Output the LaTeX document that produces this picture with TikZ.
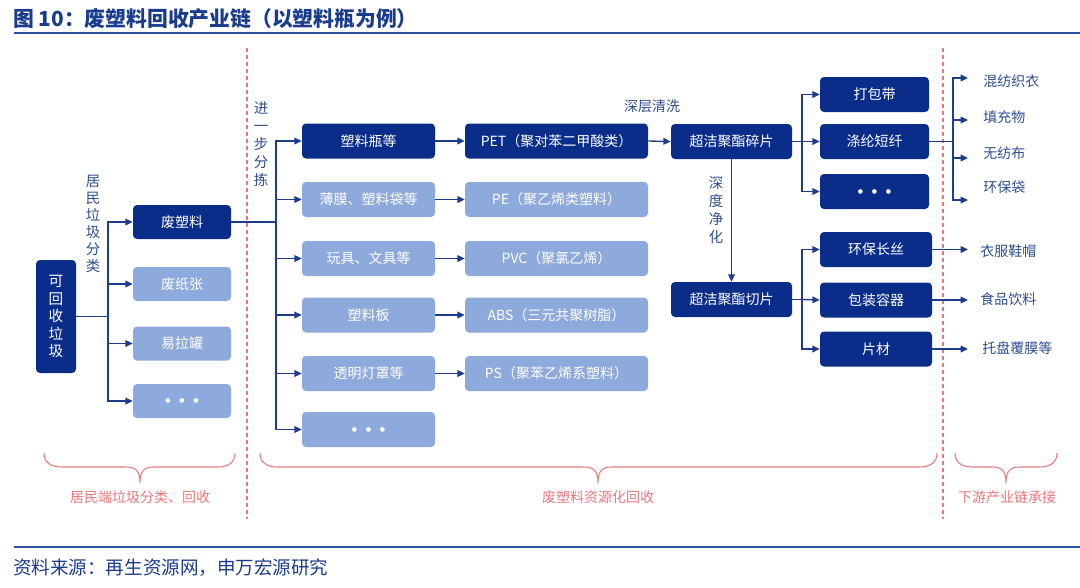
\documentclass[tikz,border=0pt]{standalone}
\usepackage{fontspec}
\setmainfont{Noto Sans CJK SC}
\newfontfamily\dejavu{DejaVu Sans}
\usetikzlibrary{arrows.meta,calc}
\definecolor{dk}{HTML}{0B2D8A}
\definecolor{lt}{HTML}{8EA9DB}
\definecolor{ln}{HTML}{1E3C8C}
\definecolor{lbl}{HTML}{2E4D92}
\definecolor{rd}{HTML}{E8787C}
\definecolor{ttl}{HTML}{1A3C8E}
\definecolor{rule}{HTML}{2B52A2}
\newcommand\mybrace[3]{\draw[bracestyle] (#1,453) .. controls (#1,462) and (#1+6,467) .. (#1+18,467) -- (#3-14,467) .. controls (#3-5,467) and (#3,470) .. (#3,483) .. controls (#3,470) and (#3+5,467) .. (#3+14,467) -- (#2-18,467) .. controls (#2-6,467) and (#2,462) .. (#2,453);}
\newcommand\threedots{{\dejavu\fontsize{4.5}{5}\selectfont ●\hspace{6.5pt}●\hspace{6.5pt}●}}
\begin{document}
\begin{tikzpicture}[x=0.75pt,y=-0.75pt,
  box/.style={rounded corners=3pt,inner sep=0pt,text=white,font=\fontsize{10.5}{12}\selectfont},
  dkbox/.style={box,fill=dk},
  ltbox/.style={box,fill=lt},
  c2/.style={minimum width=73.5pt,minimum height=25.5pt},
  c3/.style={minimum width=99.75pt,minimum height=26.25pt},
  c4/.style={minimum width=137.25pt,minimum height=26.25pt},
  c5/.style={minimum width=90.75pt,minimum height=26.25pt},
  c6/.style={minimum width=81.75pt,minimum height=26.25pt},
  c7/.style={minimum width=84pt,minimum height=26.25pt},
  conn/.style={draw=ln,line width=1pt},
  arr/.style={conn,-{Triangle[length=5.5pt,width=5pt]}},
  lab/.style={text=lbl,font=\fontsize{10.5}{12}\selectfont,inner sep=0pt},
  vlab/.style={text=lbl,align=center,inner sep=0pt},
  redlab/.style={text=rd,font=\fontsize{10.5}{12}\selectfont,inner sep=0pt},
  bracestyle/.style={draw=rd,line width=0.8pt},
  sep/.style={draw=rd,line width=0.8pt,dash pattern=on 3pt off 2.25pt},
  dots/.style={}
]
\path[use as bounding box] (0,0) rectangle (1080,587);

% title
\node[anchor=west,inner sep=0pt,text=ttl,font=\fontsize{15.6}{17}\selectfont\bfseries] (title) at (13,19) {图 10：废塑料回收产业链（以塑料瓶为例）};
\draw[rule,line width=1.5pt] (14,33) -- (1080,33);

% separators
\draw[sep] (247,48) -- (247,519);
\draw[sep] (943,48) -- (943,519);

% column 1 and 2
\node[dkbox,minimum width=30pt,minimum height=84.75pt,align=center,font=\fontsize{11}{13.1}\selectfont] (src) at (56,316.5) {可\\回\\收\\垃\\圾};
\node[dkbox,c2] (fsl) at (182,222) {废塑料};
\node[ltbox,c2] (fzz) at (182,284) {废纸张};
\node[ltbox,c2] (ylg) at (182,343.5) {易拉罐};
\node[ltbox,c2,dots] (d2) at (182,401) {\threedots};
\node[vlab,font=\fontsize{10.8}{12.75}\selectfont] (v1) at (93,223.5) {居\\民\\垃\\圾\\分\\类};

\coordinate (t1) at (108,316.5);
\draw[conn] (src.east) -- (t1);
\draw[arr] (t1) |- (fsl.west);
\draw[arr] (t1) |- (fzz.west);
\draw[arr] (t1) |- (ylg.west);
\draw[arr] (t1) |- (d2.west);

% column 3 and 4
\node[vlab,font=\fontsize{10.8}{13.5}\selectfont] (v2) at (261,144.5) {进\\一\\步\\分\\拣};
\node[dkbox,c3] (a1) at (368.5,141) {塑料瓶等};
\node[ltbox,c3] (a2) at (368.5,199.5) {薄膜、塑料袋等};
\node[ltbox,c3] (a3) at (368.5,258.5) {玩具、文具等};
\node[ltbox,c3] (a4) at (368.5,315) {塑料板};
\node[ltbox,c3] (a5) at (368.5,373.5) {透明灯罩等};
\node[ltbox,c3,dots] (a6) at (368.5,429.5) {\threedots};

\node[dkbox,c4] (b1) at (556.5,141) {PET（聚对苯二甲酸类）};
\node[ltbox,c4] (b2) at (556.5,199.5) {PE（聚乙烯类塑料）};
\node[ltbox,c4] (b3) at (556.5,258.5) {PVC（聚氯乙烯）};
\node[ltbox,c4] (b4) at (556.5,315) {ABS（三元共聚树脂）};
\node[ltbox,c4] (b5) at (556.5,373.5) {PS（聚苯乙烯系塑料）};

\coordinate (t2) at (276,222);
\draw[conn] (fsl.east) -- (t2);
\foreach \n in {a1,a2,a3,a4,a5,a6} {\draw[arr] (t2) |- (\n.west);}
\foreach \i in {1,...,5} {\draw[arr] (a\i.east) -- (b\i.west);}

% polyester
\node[dkbox,c5] (sui) at (731.5,141.5) {超洁聚酯碎片};
\node[dkbox,c5] (qie) at (731.5,299.5) {超洁聚酯切片};
\node[lab] (qx) at (652,106) {深层清洗};
\node[vlab,font=\fontsize{10.8}{13.5}\selectfont] (v3) at (716,210) {深\\度\\净\\化};
\draw[arr] (b1.east) -- (sui.west);
\draw[arr] (sui.south) -- (qie.north);

% column 5
\node[dkbox,c6] (u1) at (874.5,94.5) {打包带};
\node[dkbox,c6] (u2) at (874.5,141.5) {涤纶短纤};
\node[dkbox,c6,dots] (u3) at (874.5,191.5) {\threedots};
\node[dkbox,c7] (l1) at (876,249.5) {环保长丝};
\node[dkbox,c7] (l2) at (876,300) {包装容器};
\node[dkbox,c7] (l3) at (876,349) {片材};

\coordinate (t3) at (802,141.5);
\draw[conn] (sui.east) -- (t3);
\draw[arr] (t3) |- (u1.west);
\draw[arr] (t3) -- (u2.west);
\draw[arr] (t3) |- (u3.west);
\coordinate (t4) at (802,299.5);
\draw[conn] (qie.east) -- (t4);
\draw[arr] (t4) |- (l1.west);
\draw[arr] (t4) -- (l2.west);
\draw[arr] (t4) |- (l3.west);

% downstream
\coordinate (t5) at (953,141.5);
\coordinate (e1) at (968,78);
\coordinate (e2) at (968,120);
\coordinate (e3) at (968,158);
\coordinate (e4) at (968,200);
\draw[conn] (u2.east) -- (t5);
\foreach \e in {e1,e2,e3,e4} {\draw[arr] (t5) |- (\e);}
\node[lab,anchor=west] (g1) at (983,81) {混纺织衣};
\node[lab,anchor=west] (g2) at (983,117) {填充物};
\node[lab,anchor=west] (g3) at (983,153) {无纺布};
\node[lab,anchor=west] (g4) at (983,187) {环保袋};

\coordinate (f1) at (968,249.5);
\coordinate (f2) at (968,300);
\coordinate (f3) at (968,349);
\draw[arr] (l1.east) -- (f1);
\draw[arr] (l2.east) -- (f2);
\draw[arr] (l3.east) -- (f3);
\node[lab,anchor=west] (h1) at (980,251) {衣服鞋帽};
\node[lab,anchor=west] (h2) at (980,299) {食品饮料};
\node[lab,anchor=west] (h3) at (982,348) {托盘覆膜等};

% braces
\mybrace{44}{235}{140}
\mybrace{260}{937}{598}
\mybrace{955}{1057}{1006}
\node[redlab] (k1) at (140,497) {居民端垃圾分类、回收};
\node[redlab] (k2) at (598,497) {废塑料资源化回收};
\node[redlab] (k3) at (1007,497) {下游产业链承接};

% footer
\draw[rule,line width=2pt] (14,547) -- (1080,547);
\node[anchor=west,inner sep=0pt,text=ttl,font=\fontsize{13.9}{15}\selectfont] (srcnote) at (13,568) {资料来源：再生资源网，申万宏源研究};
\end{tikzpicture}
\end{document}
